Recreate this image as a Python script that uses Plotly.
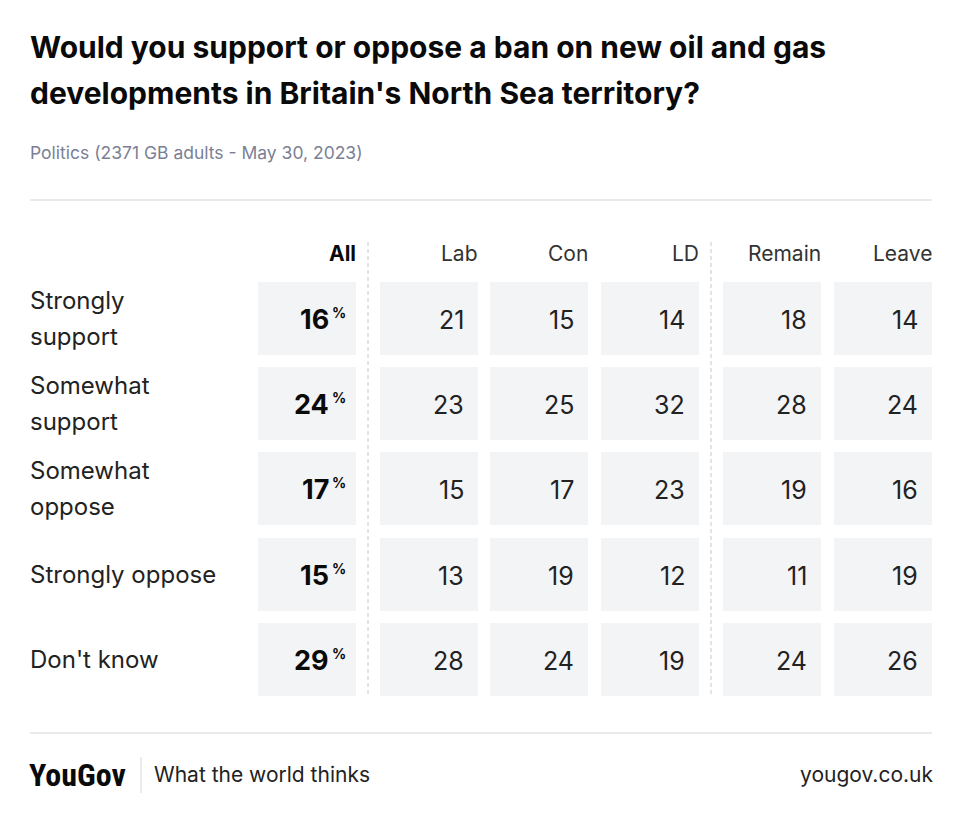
import plotly.graph_objects as go

# survey data
groups = ["All", "Lab", "Con", "LD", "Remain", "Leave"]
answers = ["Strongly<br>support", "Somewhat<br>support", "Somewhat<br>oppose",
           "Strongly oppose", "Don't know"]
values = {
    "All":    [16, 24, 17, 15, 29],
    "Lab":    [21, 23, 15, 13, 28],
    "Con":    [15, 25, 17, 19, 24],
    "LD":     [14, 32, 23, 12, 19],
    "Remain": [18, 28, 19, 11, 24],
    "Leave":  [14, 24, 16, 19, 26],
}

title = ["Would you support or oppose a ban on new oil and gas",
         "developments in Britain's North Sea territory?"]
subtitle = "Politics (2371 GB adults - May 30, 2023)"

# layout in page pixels (axes span the whole page, page has an 8px body margin)
W, H = 959, 817
OFF = 8
col_left = [258, 380, 490, 601, 723, 834]
col_w = 98
row_top = [282, 367, 452, 538, 623]
row_h = 73
cell_color = "#f3f4f6"
font = "Inter"

fig = go.Figure()

# grey cells, one bar per cell
for j, g in enumerate(groups):
    fig.add_trace(go.Bar(
        x=[col_left[j] + col_w / 2] * len(answers),
        y=[row_h] * len(answers),
        base=row_top,
        width=col_w,
        marker=dict(color=cell_color, line=dict(width=0)),
        hoverinfo="skip",
        showlegend=False,
    ))

# cell numbers
for j, g in enumerate(groups):
    xr = col_left[j] + col_w - 12
    for i, v in enumerate(values[g]):
        yc = row_top[i] + row_h / 2 + 1
        if g == "All":
            fig.add_annotation(x=xr - 13, y=yc, text="<b>%d</b>" % v, xanchor="right",
                               yanchor="middle", showarrow=False,
                               font=dict(family=font, size=27, color="#0a0a0a"))
            fig.add_annotation(x=xr + 4, y=yc - 7, text="<b>%</b>", xanchor="right",
                               yanchor="middle", showarrow=False,
                               font=dict(family=font, size=14, color="#0a0a0a"))
        else:
            fig.add_annotation(x=xr, y=yc, text=str(v), xanchor="right",
                               yanchor="middle", showarrow=False,
                               font=dict(family=font, size=25, color="#222"))
    # header
    fig.add_annotation(x=col_left[j] + col_w + 2, y=253, text="<b>All</b>" if g == "All" else g,
                       xanchor="right", yanchor="middle", showarrow=False,
                       font=dict(family=font, size=21, color="#0a0a0a" if g == "All" else "#333"))

# row labels (two-line labels get a wider line gap, like the original)
for i, a in enumerate(answers):
    parts = a.split("<br>")
    yc = row_top[i] + row_h / 2
    offs = [0] if len(parts) == 1 else [-18, 18]
    for p, d in zip(parts, offs):
        fig.add_annotation(x=28, y=yc + d, text=p, xanchor="left",
                           yanchor="middle", align="left", showarrow=False,
                           font=dict(family=font, size=24, color="#222"))

# title, subtitle, footer
for k, line in enumerate(title):
    fig.add_annotation(x=28, y=47 + 46 * k, text="<b>" + line + "</b>", xanchor="left",
                       yanchor="middle", showarrow=False,
                       font=dict(family=font, size=30, color="#0a0a0a"))
fig.add_annotation(x=28, y=152, text=subtitle, xanchor="left", yanchor="middle",
                   showarrow=False, font=dict(family=font, size=17.5, color="#7b7f95"))
fig.add_annotation(x=27, y=775, text="<b>YouGov</b>", xanchor="left", yanchor="middle",
                   showarrow=False,
                   font=dict(family="Roboto Condensed, Liberation Sans Narrow, Roboto", size=32, color="#0a0a0a"))
fig.add_annotation(x=152, y=774, text="What the world thinks", xanchor="left", yanchor="middle",
                   showarrow=False, font=dict(family=font, size=21, color="#222"))
fig.add_annotation(x=935, y=774, text="yougov.co.uk", xanchor="right", yanchor="middle",
                   showarrow=False, font=dict(family=font, size=21, color="#222"))

# rules and separators
line_grey = "#e3e3e3"
fig.add_shape(type="line", x0=30, x1=932, y0=200, y1=200, line=dict(color=line_grey, width=1.5))
fig.add_shape(type="line", x0=30, x1=932, y0=733, y1=733, line=dict(color=line_grey, width=1.5))
fig.add_shape(type="line", x0=141, x1=141, y0=757, y1=793, line=dict(color="#d8d8d8", width=1))
for xs in [368, 711]:
    fig.add_shape(type="line", x0=xs, x1=xs, y0=242, y1=696,
                  line=dict(color="#c8c8c8", width=1, dash="4px,3px"))

fig.update_layout(
    width=W, height=H,
    margin=dict(l=0, r=0, t=0, b=0),
    paper_bgcolor="white", plot_bgcolor="white",
    barmode="overlay",
    xaxis=dict(range=[OFF, W + OFF], visible=False, fixedrange=True),
    yaxis=dict(range=[H + OFF, OFF], visible=False, fixedrange=True),
)

fig.write_html("out.html")
